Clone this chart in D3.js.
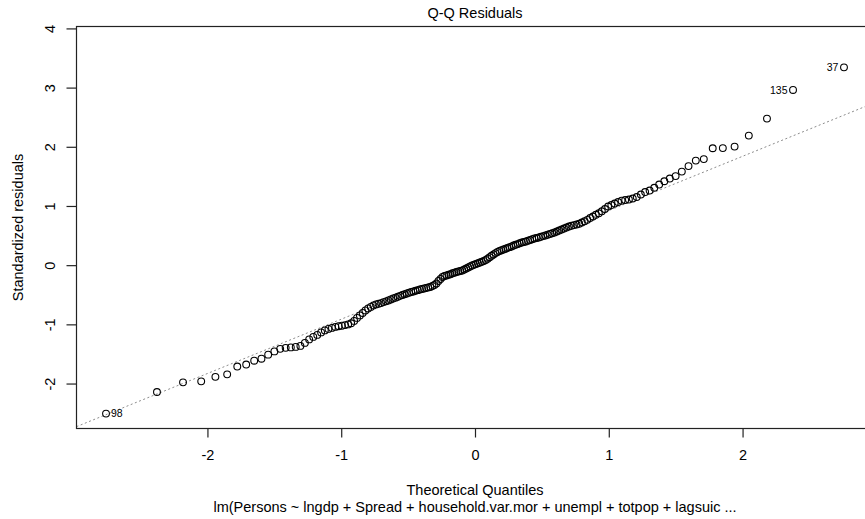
<!DOCTYPE html>
<html>
<head>
<meta charset="utf-8">
<script src="https://cdn.jsdelivr.net/npm/d3@7"></script>
<style>
  body { margin: 0; background: #fff; }
  svg { display: block; }
  text { font-family: "Liberation Sans", Arial, Helvetica, sans-serif; fill: #000; }
</style>
</head>
<body>
<svg id="chart" width="865" height="519"></svg>
<script>
// Sorted standardized residuals of the fitted model (n = 172)
const stdResiduals = [
  -2.508, -2.143, -1.980, -1.963, -1.887, -1.845, -1.713, -1.679, -1.614, -1.580,
  -1.512, -1.457, -1.414, -1.397, -1.389, -1.381, -1.364, -1.313, -1.254, -1.212,
  -1.178, -1.136, -1.102, -1.077, -1.060, -1.043, -1.031, -1.023, -1.013, -1.001,
  -0.981, -0.942, -0.891, -0.849, -0.807, -0.765, -0.731, -0.705, -0.680, -0.663,
  -0.651, -0.641, -0.624, -0.611, -0.596, -0.579, -0.562, -0.549, -0.533, -0.518,
  -0.505, -0.491, -0.478, -0.464, -0.452, -0.444, -0.432, -0.422, -0.410, -0.402,
  -0.393, -0.385, -0.376, -0.368, -0.351, -0.334, -0.309, -0.267, -0.233, -0.199,
  -0.182, -0.174, -0.162, -0.154, -0.137, -0.127, -0.116, -0.106, -0.098, -0.089,
  -0.073, -0.056, -0.039, -0.022, -0.005,  0.007,  0.020,  0.032,  0.046,  0.057,
   0.071,  0.088,  0.110,  0.135,  0.159,  0.181,  0.204,  0.223,  0.240,  0.253,
   0.265,  0.278,  0.290,  0.304,  0.316,  0.332,  0.344,  0.356,  0.370,  0.383,
   0.392,  0.400,  0.414,  0.425,  0.439,  0.451,  0.459,  0.468,  0.479,  0.491,
   0.501,  0.515,  0.527,  0.538,  0.552,  0.569,  0.586,  0.603,  0.619,  0.636,
   0.653,  0.667,  0.677,  0.687,  0.700,  0.721,  0.741,  0.766,  0.797,  0.822,
   0.851,  0.876,  0.910,  0.949,  0.991,  1.016,  1.041,  1.067,  1.089,  1.100,
   1.109,  1.126,  1.151,  1.193,  1.235,  1.261,  1.308,  1.362,  1.418,  1.463,
   1.505,  1.581,  1.674,  1.767,  1.792,  1.975,  1.978,  2.003,  2.189,  2.476,
   2.960,  3.342
];

// Observations flagged by id (rank in the sorted residuals -> row name)
const idRanks  = [1, 171, 172];
const idNames  = ["98", "135", "37"];

const xTickValues = [-2, -1, 0, 1, 2];
const yTickValues = [-2, -1, 0, 1, 2, 3, 4];

const titleText   = "Q-Q Residuals";
const xLabelText  = "Theoretical Quantiles";
const yLabelText  = "Standardized residuals";
const captionText = "lm(Persons ~ lngdp + Spread + household.var.mor + unempl + totpop + lagsuic ...";

// Inverse standard normal CDF (Acklam's rational approximation)
function qnorm(p) {
  const a = [-3.969683028665376e+01, 2.209460984245205e+02, -2.759285104469687e+02,
             1.383577518672690e+02, -3.066479806614716e+01, 2.506628277459239e+00];
  const b = [-5.447609879822406e+01, 1.615858368580409e+02, -1.556989798598866e+02,
             6.680131188771972e+01, -1.328068155288572e+01];
  const c = [-7.784894002430293e-03, -3.223964580411365e-01, -2.400758277161838e+00,
             -2.549732539343734e+00, 4.374664141464968e+00, 2.938163982698783e+00];
  const d = [7.784695709041462e-03, 3.224671290700398e-01, 2.445134137142996e+00,
             3.754408661907416e+00];
  const pl = 0.02425, ph = 1 - pl;
  let q, r;
  if (p < pl) {
    q = Math.sqrt(-2 * Math.log(p));
    return (((((c[0]*q+c[1])*q+c[2])*q+c[3])*q+c[4])*q+c[5]) /
           ((((d[0]*q+d[1])*q+d[2])*q+d[3])*q+1);
  }
  if (p <= ph) {
    q = p - 0.5; r = q * q;
    return (((((a[0]*r+a[1])*r+a[2])*r+a[3])*r+a[4])*r+a[5])*q /
           (((((b[0]*r+b[1])*r+b[2])*r+b[3])*r+b[4])*r+1);
  }
  q = Math.sqrt(-2 * Math.log(1 - p));
  return -(((((c[0]*q+c[1])*q+c[2])*q+c[3])*q+c[4])*q+c[5]) /
          ((((d[0]*q+d[1])*q+d[2])*q+d[3])*q+1);
}

const n = stdResiduals.length;
// plotting positions (i - 0.5) / n, as ppoints() uses for n > 10
const theoretical = d3.range(n).map(i => qnorm((i + 0.5) / n));
const points = stdResiduals.map((v, i) => ({ x: theoretical[i], y: v, rank: i + 1 }));

// axis limits with 4% padding; extra headroom on top for the id labels
const pad = ([lo, hi]) => { const e = (hi - lo) * 0.04; return [lo - e, hi + e]; };
const xr = d3.extent(theoretical);
const yr = d3.extent(stdResiduals);
yr[1] += (yr[1] - yr[0]) * 0.075;

const box = { left: 76.5, top: 26.5, right: 873.5, bottom: 428.5 };

const x = d3.scaleLinear().domain(pad(xr)).range([box.left, box.right]);
const y = d3.scaleLinear().domain(pad(yr)).range([box.bottom, box.top]);

const svg = d3.select("#chart");
const fontSize = "14.5px";

svg.append("defs").append("clipPath").attr("id", "plot-clip")
  .append("rect")
  .attr("x", box.left).attr("y", box.top)
  .attr("width", box.right - box.left).attr("height", box.bottom - box.top);

// reference line through the first and third quartiles
const sorted = stdResiduals.slice().sort(d3.ascending);
const yq = [d3.quantileSorted(sorted, 0.25), d3.quantileSorted(sorted, 0.75)];
const xq = [qnorm(0.25), qnorm(0.75)];
const slope = (yq[1] - yq[0]) / (xq[1] - xq[0]);
const intercept = yq[0] - slope * xq[0];
const [x0, x1] = x.domain();

svg.append("line")
  .attr("clip-path", "url(#plot-clip)")
  .attr("x1", x(x0)).attr("y1", y(intercept + slope * x0))
  .attr("x2", x(x1)).attr("y2", y(intercept + slope * x1))
  .attr("stroke", "#8c8c8c")
  .attr("stroke-width", 1)
  .attr("stroke-dasharray", "2,2.5");

// points
svg.append("g")
  .selectAll("circle")
  .data(points)
  .join("circle")
  .attr("cx", d => x(d.x))
  .attr("cy", d => y(d.y))
  .attr("r", 3.4)
  .attr("fill", "none")
  .attr("stroke", "#000")
  .attr("stroke-width", 1.1);

// id labels: to the right on the left half, to the left on the right half
const xMid = (xr[0] + xr[1]) / 2;
svg.append("g")
  .selectAll("text")
  .data(idRanks.map((r, k) => ({ p: points[r - 1], name: idNames[k] })))
  .join("text")
  .attr("x", d => x(d.p.x) + (d.p.x < xMid ? 5 : -5.5))
  .attr("y", d => y(d.p.y) + 3.7)
  .attr("text-anchor", d => d.p.x < xMid ? "start" : "end")
  .style("font-size", "10.5px")
  .text(d => d.name);

// axes
const xAxis = svg.append("g")
  .attr("transform", `translate(0,${box.bottom})`)
  .call(d3.axisBottom(x).tickValues(xTickValues).tickSize(9).tickPadding(12.5)
        .tickFormat(d => d < 0 ? "-" + Math.abs(d) : String(d)));

const yAxis = svg.append("g")
  .attr("transform", `translate(${box.left},0)`)
  .call(d3.axisLeft(y).tickValues(yTickValues).tickSize(10)
        .tickFormat(d => d < 0 ? "-" + Math.abs(d) : String(d)));

[xAxis, yAxis].forEach(g => {
  g.select(".domain").remove();
  g.selectAll(".tick line").attr("stroke", "#222").attr("stroke-width", 1.2);
  g.selectAll(".tick text").style("font-size", fontSize).attr("fill", "#000");
});

// rotated y tick labels, reading upward
yAxis.selectAll(".tick text")
  .attr("x", 0).attr("dy", null).attr("y", -21.3)
  .attr("text-anchor", "middle")
  .attr("transform", "rotate(-90)");

// frame
svg.append("rect")
  .attr("x", box.left).attr("y", box.top)
  .attr("width", box.right - box.left).attr("height", box.bottom - box.top)
  .attr("fill", "none").attr("stroke", "#222").attr("stroke-width", 1.2);

// titles
const cx = (box.left + box.right) / 2;
svg.append("text").attr("x", cx).attr("y", 18).attr("text-anchor", "middle")
  .style("font-size", fontSize).text(titleText);
svg.append("text").attr("x", cx).attr("y", 495).attr("text-anchor", "middle")
  .style("font-size", fontSize).text(xLabelText);
svg.append("text").attr("x", cx).attr("y", 511.5).attr("text-anchor", "middle")
  .style("font-size", fontSize).text(captionText);
svg.append("text")
  .attr("transform", `translate(22.5,${(box.top + box.bottom) / 2}) rotate(-90)`)
  .attr("text-anchor", "middle")
  .style("font-size", fontSize).text(yLabelText);
</script>
</body>
</html>
